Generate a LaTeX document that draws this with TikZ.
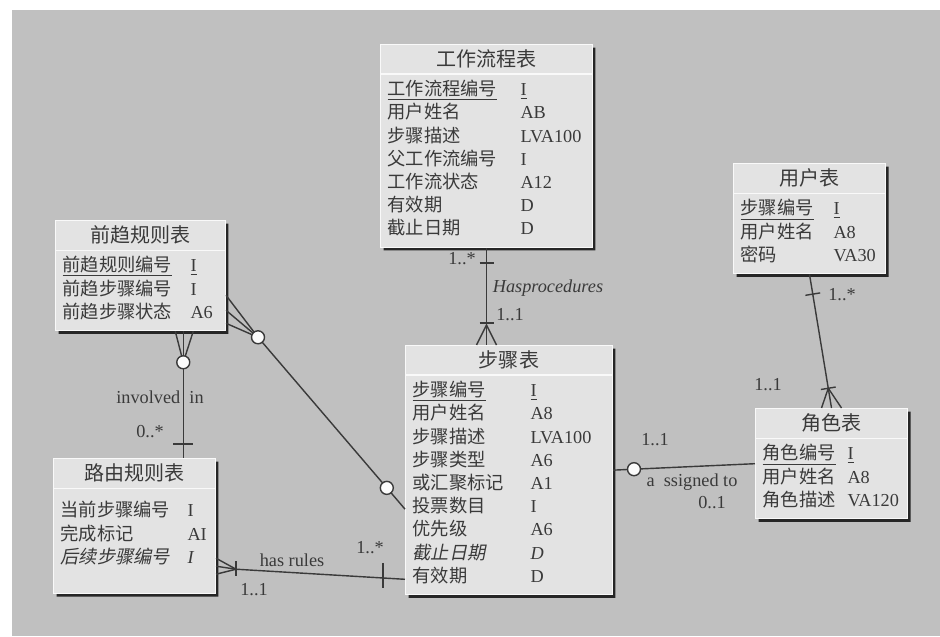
\documentclass[tikz,border=0pt]{standalone}
\usepackage{fontspec}
\setmainfont{Liberation Serif}
\newfontfamily\cjk{Noto Sans CJK SC}
\newfontfamily\cjkit{Noto Sans CJK SC}[FakeSlant=0.2]
\usepackage{array}
\usepackage{tikz}
\usetikzlibrary{positioning,calc,shapes.multipart,shadows}
\definecolor{bggray}{HTML}{C0C0C0}
\definecolor{boxgray}{HTML}{E3E3E3}
\definecolor{ink}{HTML}{3A3A3A}
\newcommand{\ttl}{\cjk\fontsize{11.4pt}{13.2pt}\selectfont}
\newcommand{\rowfont}{\fontsize{10.4pt}{13.2pt}\selectfont}

\begin{document}
\begin{tikzpicture}[x=0.02cm, y=-0.02cm, color=ink, line width=0.8pt,
  main/.style = {rectangle split, rectangle split parts=2, draw=white!80!boxgray,
    fill=boxgray, anchor=north west, inner xsep=0.14cm, inner ysep=0.1cm,
    align=center, font=\rowfont, text=ink, line width=0.6pt,
    drop shadow={shadow xshift=0.06cm, shadow yshift=-0.06cm, fill=black!85, opacity=1}},
  lbl/.style = {font=\rowfont, text=ink, inner sep=0pt},
  circ/.style = {draw=ink, fill=white!85!boxgray, circle, inner sep=0pt, minimum size=0.26cm, line width=0.8pt}]
        % Background
        \fill[bggray] (12,10) rectangle (940,636);
        \useasboundingbox (0,0) rectangle (940,636);
        % Nodes
        \node[main, text width=3.96cm] (flow) at (380,44) {\ttl 工作流程表
          \nodepart{two}\begin{tabular}{@{}p{2.66cm}@{}p{1.3cm}@{}}
          \cjk\underline{工作流程编号} & \underline{I}\\
          \cjk 用户姓名 & AB\\
          \cjk 步骤描述 & LVA100\\
          \cjk 父工作流编号 & I\\
          \cjk 工作流状态 & A12\\
          \cjk 有效期 & D\\
          \cjk 截止日期 & D
          \end{tabular}};
        \node[main, text width=3.12cm] (pre) at (55,220) {\ttl 前趋规则表
          \nodepart{two}\begin{tabular}{@{}p{2.56cm}@{}p{0.56cm}@{}}
          \cjk\underline{前趋规则编号} & \underline{I}\\
          \cjk 前趋步骤编号 & I\\
          \cjk 前趋步骤状态 & A6
          \end{tabular}};
        \node[main, text width=2.96cm] (route) at (53,458) {\ttl 路由规则表
          \nodepart{two}\begin{tabular}{@{}p{2.54cm}@{}p{0.42cm}@{}}
          \noalign{\vskip 0.14cm}
          \cjk 当前步骤编号 & I\\
          \cjk 完成标记 & AI\\
          \cjkit 后续步骤编号 & \itshape I\\
          \noalign{\vskip 0.36cm}
          \end{tabular}};
        \node[main, text width=3.86cm] (steps) at (405,345) {\ttl 步骤表
          \nodepart{two}\begin{tabular}{@{}p{2.36cm}@{}p{1.5cm}@{}}
          \cjk\underline{步骤编号} & \underline{I}\\
          \cjk 用户姓名 & A8\\
          \cjk 步骤描述 & LVA100\\
          \cjk 步骤类型 & A6\\
          \cjk 或汇聚标记 & A1\\
          \cjk 投票数目 & I\\
          \cjk 优先级 & A6\\
          \cjkit 截止日期 & \itshape D\\
          \cjk 有效期 & D
          \end{tabular}};
        \node[main, text width=2.76cm] (user) at (733,163) {\ttl 用户表
          \nodepart{two}\begin{tabular}{@{}p{1.86cm}@{}p{0.9cm}@{}}
          \cjk\underline{步骤编号} & \underline{I}\\
          \cjk 用户姓名 & A8\\
          \cjk 密码 & VA30
          \end{tabular}};
        \node[main, text width=2.76cm] (role) at (755,408) {\ttl 角色表
          \nodepart{two}\begin{tabular}{@{}p{1.7cm}@{}p{1.06cm}@{}}
          \cjk\underline{角色编号} & \underline{I}\\
          \cjk 用户姓名 & A8\\
          \cjk 角色描述 & VA120
          \end{tabular}};
        % Edges
        % flow -- steps
        \coordinate (s1) at (flow.south |- steps.north);
        \draw (flow.south) -- (s1);
        \draw ([xshift=-0.14cm,yshift=-0.3cm]flow.south) -- ([xshift=0.14cm,yshift=-0.3cm]flow.south);
        \draw ([xshift=-0.2cm]s1) -- ([yshift=0.4cm]s1) -- ([xshift=0.2cm]s1);
        \draw ([xshift=-0.14cm,yshift=0.44cm]s1) -- ([xshift=0.14cm,yshift=0.44cm]s1);
        % user -- role
        \coordinate (u2) at ($(user.south)!0.4cm!(role.north)$);
        \coordinate (r2) at ($(role.north)!0.4cm!(user.south)$);
        \draw (user.south) -- (role.north);
        \draw ($(u2)!0.15cm!90:(role.north)$) -- ($(u2)!0.15cm!-90:(role.north)$);
        \draw ([xshift=-0.2cm]role.north) -- (r2) -- ([xshift=0.2cm]role.north);
        \draw ($(r2)!0.15cm!90:(user.south)$) -- ($(r2)!0.15cm!-90:(user.south)$);
        % steps -- role
        \coordinate (c3) at ($(steps.east)!0.42cm!(role.west)$);
        \draw (steps.east) -- (role.west);
        % pre -- route
        \coordinate (a4) at ($(pre.south west)!0.75!(pre.south east)$);
        \coordinate (b4) at (a4 |- route.north);
        \coordinate (c4) at ([yshift=-0.62cm]a4);
        \draw (a4) -- (b4);
        \draw ([xshift=-0.16cm]a4) -- (c4) -- ([xshift=0.2cm]a4);
        \draw ([xshift=-0.2cm,yshift=0.28cm]b4) -- ([xshift=0.2cm,yshift=0.28cm]b4);
        % pre -- steps
        \coordinate (p5) at (pre.south east);
        \coordinate (c5) at ([xshift=0.64cm,yshift=-0.12cm]p5);
        \coordinate (e5) at ([yshift=-0.78cm]steps.west);
        \coordinate (d5) at ($(e5)!0.56cm!(c5)$);
        \draw ([yshift=0.72cm]p5) -- (c5) -- (e5);
        \draw ([yshift=0.42cm]p5) -- (c5);
        \draw ([yshift=0.16cm]p5) -- (c5);
        % route -- steps
        \coordinate (p6) at (route.south east);
        \coordinate (k6) at ([xshift=0.4cm,yshift=0.5cm]p6);
        \coordinate (e6) at ([yshift=0.32cm]steps.south west);
        \coordinate (t6) at ($(e6)!0.44cm!(k6)$);
        \draw ([yshift=0.72cm]p6) -- (k6) -- (e6);
        \draw ([yshift=0.56cm]p6) -- (k6);
        \draw ([yshift=0.4cm]p6) -- (k6);
        \draw ([yshift=0.16cm]k6) -- ([yshift=-0.14cm]k6);
        \draw ([yshift=0.3cm]t6) -- ([yshift=-0.2cm]t6);
        % Circles
        \node[circ] (o3) at (c3) {};
        \node[circ] (o4) at (c4) {};
        \node[circ] (o5) at (c5) {};
        \node[circ] (o6) at (d5) {};
        % Labels
        \node[lbl] (m1) at (462,259) {1..*};
        \node[lbl] (has) at (548,288) {\itshape Hasprocedures};
        \node[lbl] (m2) at (510,315) {1..1};
        \node[lbl] (m3) at (842,295) {1..*};
        \node[lbl] (m4) at (768,385) {1..1};
        \node[lbl] (m5) at (655,440) {1..1};
        \node[lbl] (asg) at (692,482) {a\ \ ssigned to};
        \node[lbl] (m6) at (712,503) {0..1};
        \node[lbl] (inv) at (160,397) {involved\ \ in};
        \node[lbl] (m7) at (150,432) {0..*};
        \node[lbl] (rules) at (292,560) {has rules};
        \node[lbl] (m8) at (254,590) {1..1};
        \node[lbl] (m9) at (370,548) {1..*};
\end{tikzpicture}
\end{document}
